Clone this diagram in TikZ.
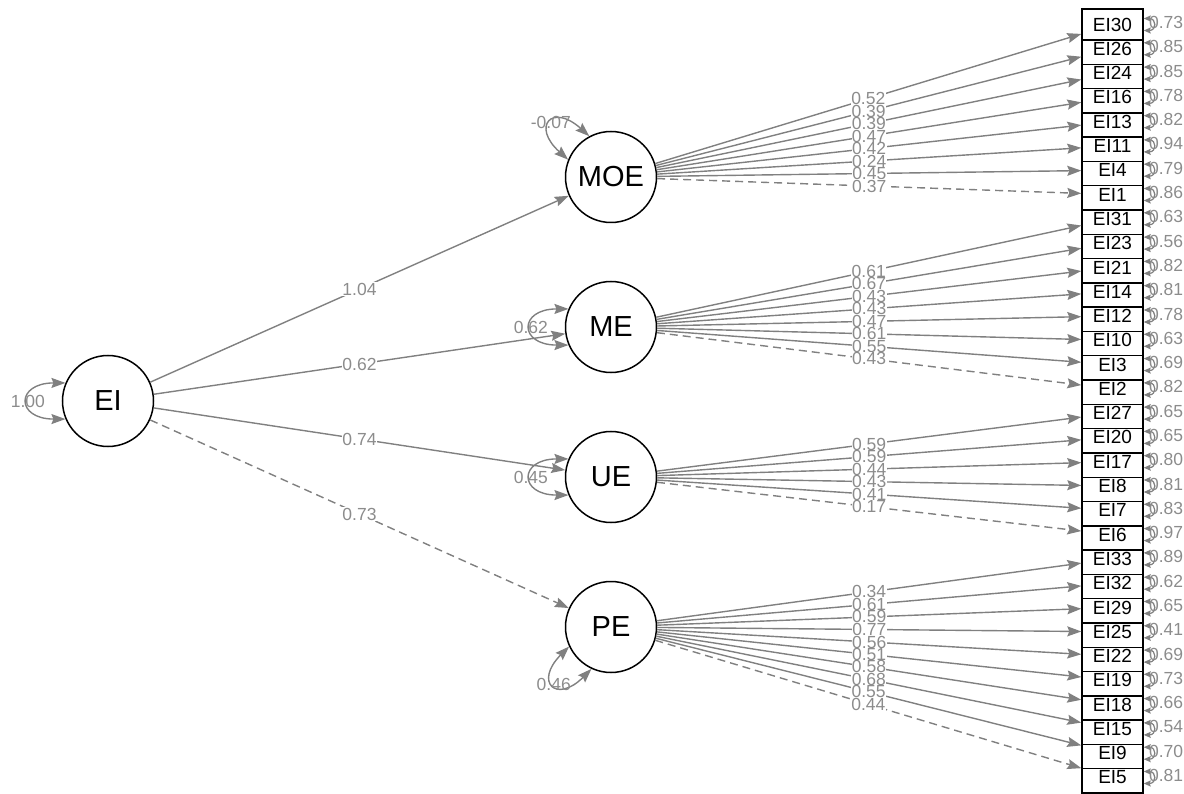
\documentclass[tikz,border=0pt]{standalone}
\usepackage{fontspec}
\setmainfont{Liberation Sans}
\usetikzlibrary{arrows.meta}
\definecolor{pathgray}{RGB}{128,128,128}
\definecolor{labelgray}{RGB}{140,140,140}
\tikzset{
  latent/.style={circle,draw=black,line width=1.5pt,fill=white,minimum size=91pt,inner sep=0pt,font=\fontsize{29}{29}\selectfont},
  indicator/.style={rectangle,draw=black,line width=1.4pt,fill=white,minimum width=61pt,minimum height=31pt,inner sep=0pt,font=\fontsize{19}{19}\selectfont},
  loading/.style={draw=pathgray,line width=1.4pt,-{Stealth[length=14pt,width=10pt,inset=2pt]}},
  fixed/.style={loading,dash pattern=on 8pt off 5pt},
  estim/.style={fill=white,inner sep=0.4pt,text=labelgray,font=\fontsize{17.5}{17.5}\selectfont},
  varloop/.style={draw=pathgray,line width=1.4pt,{Stealth[length=14pt,width=10pt,inset=2pt]}-{Stealth[length=14pt,width=10pt,inset=2pt]}},
  resloop/.style={draw=pathgray,line width=1.2pt,{Stealth[length=7pt,width=6pt,inset=1pt]}-{Stealth[length=7pt,width=6pt,inset=1pt]}},
  varlabel/.style={text=labelgray,inner sep=0pt,font=\fontsize{17.5}{17.5}\selectfont},
  reslabel/.style={varlabel,anchor=west,xshift=-5pt,yshift=2pt},
}
\begin{document}
\begin{tikzpicture}[x=1pt,y=-1pt]
    \useasboundingbox (0,0) rectangle (1184,794);
    % latent factors
    \node[latent] (EI) at (108,401) {EI};
    \node[latent] (MOE) at (611,177) {MOE};
    \node[latent] (ME) at (611,327) {ME};
    \node[latent] (UE) at (611,477) {UE};
    \node[latent] (PE) at (611,627) {PE};
    % items, from the bottom up so each box covers the top of the next one
    \node[indicator] (EI5) at (1112.5,777.5) {EI5};
    \node[indicator] (EI9) at (1112.5,753.2) {EI9};
    \node[indicator] (EI15) at (1112.5,728.9) {EI15};
    \node[indicator] (EI18) at (1112.5,704.6) {EI18};
    \node[indicator] (EI19) at (1112.5,680.3) {EI19};
    \node[indicator] (EI22) at (1112.5,656.1) {EI22};
    \node[indicator] (EI25) at (1112.5,631.8) {EI25};
    \node[indicator] (EI29) at (1112.5,607.5) {EI29};
    \node[indicator] (EI32) at (1112.5,583.2) {EI32};
    \node[indicator] (EI33) at (1112.5,558.9) {EI33};
    \node[indicator] (EI6) at (1112.5,534.6) {EI6};
    \node[indicator] (EI7) at (1112.5,510.3) {EI7};
    \node[indicator] (EI8) at (1112.5,486.0) {EI8};
    \node[indicator] (EI17) at (1112.5,461.7) {EI17};
    \node[indicator] (EI20) at (1112.5,437.4) {EI20};
    \node[indicator] (EI27) at (1112.5,413.1) {EI27};
    \node[indicator] (EI2) at (1112.5,388.9) {EI2};
    \node[indicator] (EI3) at (1112.5,364.6) {EI3};
    \node[indicator] (EI10) at (1112.5,340.3) {EI10};
    \node[indicator] (EI12) at (1112.5,316.0) {EI12};
    \node[indicator] (EI14) at (1112.5,291.7) {EI14};
    \node[indicator] (EI21) at (1112.5,267.4) {EI21};
    \node[indicator] (EI23) at (1112.5,243.1) {EI23};
    \node[indicator] (EI31) at (1112.5,218.8) {EI31};
    \node[indicator] (EI1) at (1112.5,194.5) {EI1};
    \node[indicator] (EI4) at (1112.5,170.2) {EI4};
    \node[indicator] (EI11) at (1112.5,145.9) {EI11};
    \node[indicator] (EI13) at (1112.5,121.7) {EI13};
    \node[indicator] (EI16) at (1112.5,97.4) {EI16};
    \node[indicator] (EI24) at (1112.5,73.1) {EI24};
    \node[indicator] (EI26) at (1112.5,48.8) {EI26};
    \node[indicator] (EI30) at (1112.5,24.5) {EI30};
    % second order loadings
    \draw[loading] (EI) -- node[estim] {1.04} (MOE);
    \draw[loading] (EI) -- node[estim] {0.62} (ME);
    \draw[loading] (EI) -- node[estim] {0.74} (UE);
    \draw[fixed] (EI) -- node[estim] {0.73} (PE);
    % MOE items
    \draw[loading] (MOE) -- node[estim] {0.52} (EI30);
    \draw[loading] (MOE) -- node[estim] {0.39} (EI26);
    \draw[loading] (MOE) -- node[estim] {0.39} (EI24);
    \draw[loading] (MOE) -- node[estim] {0.47} (EI16);
    \draw[loading] (MOE) -- node[estim] {0.42} (EI13);
    \draw[loading] (MOE) -- node[estim] {0.24} (EI11);
    \draw[loading] (MOE) -- node[estim] {0.45} (EI4);
    \draw[fixed] (MOE) -- node[estim] {0.37} (EI1);
    % ME items
    \draw[loading] (ME) -- node[estim] {0.61} (EI31);
    \draw[loading] (ME) -- node[estim] {0.67} (EI23);
    \draw[loading] (ME) -- node[estim] {0.43} (EI21);
    \draw[loading] (ME) -- node[estim] {0.43} (EI14);
    \draw[loading] (ME) -- node[estim] {0.47} (EI12);
    \draw[loading] (ME) -- node[estim] {0.61} (EI10);
    \draw[loading] (ME) -- node[estim] {0.55} (EI3);
    \draw[fixed] (ME) -- node[estim] {0.43} (EI2);
    % UE items
    \draw[loading] (UE) -- node[estim] {0.59} (EI27);
    \draw[loading] (UE) -- node[estim] {0.59} (EI20);
    \draw[loading] (UE) -- node[estim] {0.44} (EI17);
    \draw[loading] (UE) -- node[estim] {0.43} (EI8);
    \draw[loading] (UE) -- node[estim] {0.41} (EI7);
    \draw[fixed] (UE) -- node[estim] {0.17} (EI6);
    % PE items
    \draw[loading] (PE) -- node[estim] {0.34} (EI33);
    \draw[loading] (PE) -- node[estim] {0.61} (EI32);
    \draw[loading] (PE) -- node[estim] {0.59} (EI29);
    \draw[loading] (PE) -- node[estim] {0.77} (EI25);
    \draw[loading] (PE) -- node[estim] {0.56} (EI22);
    \draw[loading] (PE) -- node[estim] {0.51} (EI19);
    \draw[loading] (PE) -- node[estim] {0.58} (EI18);
    \draw[loading] (PE) -- node[estim] {0.68} (EI15);
    \draw[loading] (PE) -- node[estim] {0.55} (EI9);
    \draw[fixed] (PE) -- node[estim] {0.44} (EI5);
    % factor variances
    \draw[varloop] (EI.157) to[out=180,in=180,distance=50pt] node[varlabel] {1.00} (EI.203);
    \draw[varloop] (MOE.118) to[out=138,in=138,distance=50pt] node[varlabel] {-0.07} (MOE.158);
    \draw[varloop] (ME.157) to[out=180,in=180,distance=50pt] node[varlabel] {0.62} (ME.203);
    \draw[varloop] (UE.157) to[out=180,in=180,distance=50pt] node[varlabel] {0.45} (UE.203);
    \draw[varloop] (PE.205) to[out=225,in=225,distance=50pt] node[varlabel] {0.46} (PE.245);
    % item residuals
    \draw[resloop] ([yshift=6pt]EI30.east) to[out=0,in=0,distance=13pt] node[reslabel] {0.73} ([yshift=-6pt]EI30.east);
    \draw[resloop] ([yshift=6pt]EI26.east) to[out=0,in=0,distance=13pt] node[reslabel] {0.85} ([yshift=-6pt]EI26.east);
    \draw[resloop] ([yshift=6pt]EI24.east) to[out=0,in=0,distance=13pt] node[reslabel] {0.85} ([yshift=-6pt]EI24.east);
    \draw[resloop] ([yshift=6pt]EI16.east) to[out=0,in=0,distance=13pt] node[reslabel] {0.78} ([yshift=-6pt]EI16.east);
    \draw[resloop] ([yshift=6pt]EI13.east) to[out=0,in=0,distance=13pt] node[reslabel] {0.82} ([yshift=-6pt]EI13.east);
    \draw[resloop] ([yshift=6pt]EI11.east) to[out=0,in=0,distance=13pt] node[reslabel] {0.94} ([yshift=-6pt]EI11.east);
    \draw[resloop] ([yshift=6pt]EI4.east) to[out=0,in=0,distance=13pt] node[reslabel] {0.79} ([yshift=-6pt]EI4.east);
    \draw[resloop] ([yshift=6pt]EI1.east) to[out=0,in=0,distance=13pt] node[reslabel] {0.86} ([yshift=-6pt]EI1.east);
    \draw[resloop] ([yshift=6pt]EI31.east) to[out=0,in=0,distance=13pt] node[reslabel] {0.63} ([yshift=-6pt]EI31.east);
    \draw[resloop] ([yshift=6pt]EI23.east) to[out=0,in=0,distance=13pt] node[reslabel] {0.56} ([yshift=-6pt]EI23.east);
    \draw[resloop] ([yshift=6pt]EI21.east) to[out=0,in=0,distance=13pt] node[reslabel] {0.82} ([yshift=-6pt]EI21.east);
    \draw[resloop] ([yshift=6pt]EI14.east) to[out=0,in=0,distance=13pt] node[reslabel] {0.81} ([yshift=-6pt]EI14.east);
    \draw[resloop] ([yshift=6pt]EI12.east) to[out=0,in=0,distance=13pt] node[reslabel] {0.78} ([yshift=-6pt]EI12.east);
    \draw[resloop] ([yshift=6pt]EI10.east) to[out=0,in=0,distance=13pt] node[reslabel] {0.63} ([yshift=-6pt]EI10.east);
    \draw[resloop] ([yshift=6pt]EI3.east) to[out=0,in=0,distance=13pt] node[reslabel] {0.69} ([yshift=-6pt]EI3.east);
    \draw[resloop] ([yshift=6pt]EI2.east) to[out=0,in=0,distance=13pt] node[reslabel] {0.82} ([yshift=-6pt]EI2.east);
    \draw[resloop] ([yshift=6pt]EI27.east) to[out=0,in=0,distance=13pt] node[reslabel] {0.65} ([yshift=-6pt]EI27.east);
    \draw[resloop] ([yshift=6pt]EI20.east) to[out=0,in=0,distance=13pt] node[reslabel] {0.65} ([yshift=-6pt]EI20.east);
    \draw[resloop] ([yshift=6pt]EI17.east) to[out=0,in=0,distance=13pt] node[reslabel] {0.80} ([yshift=-6pt]EI17.east);
    \draw[resloop] ([yshift=6pt]EI8.east) to[out=0,in=0,distance=13pt] node[reslabel] {0.81} ([yshift=-6pt]EI8.east);
    \draw[resloop] ([yshift=6pt]EI7.east) to[out=0,in=0,distance=13pt] node[reslabel] {0.83} ([yshift=-6pt]EI7.east);
    \draw[resloop] ([yshift=6pt]EI6.east) to[out=0,in=0,distance=13pt] node[reslabel] {0.97} ([yshift=-6pt]EI6.east);
    \draw[resloop] ([yshift=6pt]EI33.east) to[out=0,in=0,distance=13pt] node[reslabel] {0.89} ([yshift=-6pt]EI33.east);
    \draw[resloop] ([yshift=6pt]EI32.east) to[out=0,in=0,distance=13pt] node[reslabel] {0.62} ([yshift=-6pt]EI32.east);
    \draw[resloop] ([yshift=6pt]EI29.east) to[out=0,in=0,distance=13pt] node[reslabel] {0.65} ([yshift=-6pt]EI29.east);
    \draw[resloop] ([yshift=6pt]EI25.east) to[out=0,in=0,distance=13pt] node[reslabel] {0.41} ([yshift=-6pt]EI25.east);
    \draw[resloop] ([yshift=6pt]EI22.east) to[out=0,in=0,distance=13pt] node[reslabel] {0.69} ([yshift=-6pt]EI22.east);
    \draw[resloop] ([yshift=6pt]EI19.east) to[out=0,in=0,distance=13pt] node[reslabel] {0.73} ([yshift=-6pt]EI19.east);
    \draw[resloop] ([yshift=6pt]EI18.east) to[out=0,in=0,distance=13pt] node[reslabel] {0.66} ([yshift=-6pt]EI18.east);
    \draw[resloop] ([yshift=6pt]EI15.east) to[out=0,in=0,distance=13pt] node[reslabel] {0.54} ([yshift=-6pt]EI15.east);
    \draw[resloop] ([yshift=6pt]EI9.east) to[out=0,in=0,distance=13pt] node[reslabel] {0.70} ([yshift=-6pt]EI9.east);
    \draw[resloop] ([yshift=6pt]EI5.east) to[out=0,in=0,distance=13pt] node[reslabel] {0.81} ([yshift=-6pt]EI5.east);
\end{tikzpicture}
\end{document}
